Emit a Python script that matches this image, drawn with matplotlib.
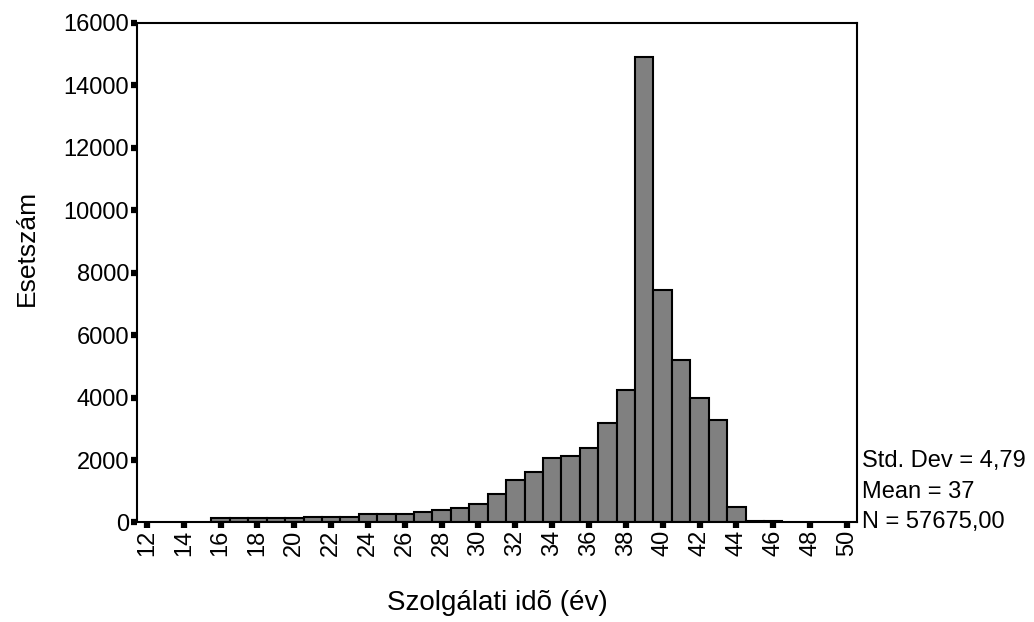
import matplotlib.pyplot as plt

# --- adatok (leolvasva az ábráról) ---
evek = list(range(16, 47))
esetszam = [130, 130, 130, 130, 130,      # 16-20
            170, 170, 170,                # 21-23
            260, 260, 260,                # 24-26
            330, 400, 460, 590, 910,      # 27-31
            1370, 1615, 2055, 2130, 2390, # 32-36
            3170, 4250, 14900, 7440, 5215,# 37-41
            3975, 3270, 510, 40, 60]      # 42-46
x_ticks = list(range(12, 51, 2))
y_ticks = list(range(0, 16001, 2000))
stat_sorok = ["Std. Dev = 4,79", "Mean = 37", "N = 57675,00"]

plt.rcParams['font.family'] = ['Liberation Sans', 'DejaVu Sans']

fig = plt.figure(figsize=(10.34, 6.22), dpi=100)
ax = fig.add_axes([0.1325, 0.16, 0.829 - 0.1325, 0.9635 - 0.16])

ax.bar(evek, esetszam, width=1.0, color="#808080",
       edgecolor="black", linewidth=1.5, zorder=2)

ax.set_xlim(11.46, 50.56)
ax.set_ylim(0, 16000)
ax.set_xticks(x_ticks)
ax.set_xticklabels([str(t) for t in x_ticks], rotation=90, fontsize=17)
ax.set_yticks(y_ticks)
ax.set_yticklabels([str(t) for t in y_ticks], fontsize=17)

# négyzetes jelölők a tengelyeken
ax.tick_params(axis="both", length=4, width=4.5, color="black", pad=1.5)
for s in ax.spines.values():
    s.set_linewidth(1.5)

ax.set_ylabel("Esetszám", fontsize=19)
ax.yaxis.set_label_coords(-0.136, 0.55)
ax.set_xlabel("Szolgálati idõ (év)", fontsize=20)
ax.xaxis.set_label_coords(0.5, -0.135)

# statisztikák jobb oldalt
for i, sor in enumerate(stat_sorok):
    fig.text(0.8337, 0.259 - i * 0.0495, sor, fontsize=17,
             ha="left", va="center")

fig.savefig("out.png", dpi=100)
